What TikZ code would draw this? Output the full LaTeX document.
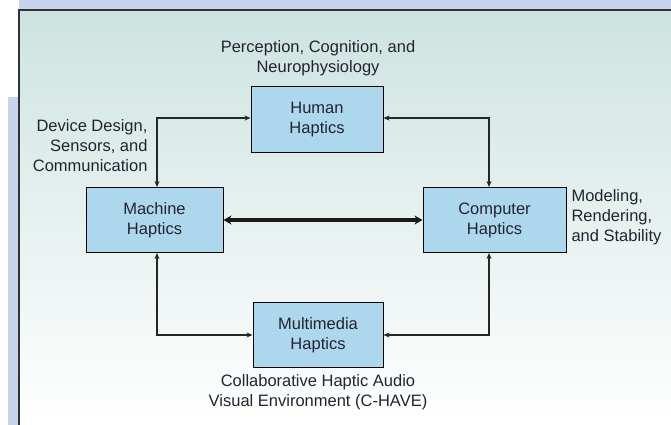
\documentclass[tikz,border=0pt]{standalone}
\usepackage{fontspec}
\setmainfont{Liberation Sans}
\usepackage{xcolor}
\usetikzlibrary{positioning,arrows.meta}
\definecolor{boxblue}{RGB}{172,215,236}
\definecolor{panelteal}{RGB}{205,227,224}
\definecolor{stripblue}{RGB}{200,212,238}
\definecolor{inkdark}{RGB}{35,35,50}

\begin{document}
\begin{tikzpicture}[x=1pt, y=-1pt, >=Stealth,
		hapbox/.style={draw=black, line width=1pt, fill=boxblue, minimum width=132pt, minimum height=65pt,
			align=center, font=\fontsize{16.5}{20}\selectfont, text=inkdark},
		note/.style={align=center, font=\fontsize{16.5}{20}\selectfont, text=inkdark},
		link/.style={<->, line width=1.1pt, draw=black!85, >={Stealth[length=6pt,width=5pt]}},
		bigLink/.style={<->, line width=3.5pt, draw=black!90, >={Stealth[length=8pt,width=9pt]}}]
		\useasboundingbox (0,0) rectangle (671,425);
		% background panel
		\fill[stripblue] (19,0) rectangle (671,10);
		\fill[stripblue] (8,97) rectangle (18,425);
		\shade[top color=panelteal, bottom color=white] (19,10) rectangle (671,425);
		\draw[line width=1.2pt, black!80] (19,425) -- (19,10) -- (671,10);

		% the four haptics boxes
		\node[hapbox] (human) at (317,119.5) {Human\\Haptics};
		\node[hapbox, minimum width=137pt] (machine) at (154.5,220) {Machine\\Haptics};
		\node[hapbox, minimum width=143pt] (computer) at (494.5,220) {Computer\\Haptics};
		\node[hapbox, minimum width=130pt] (multimedia) at (318,335) {Multimedia\\Haptics};

		% research areas
		\node[note] (percept) at (318,58) {Perception, Cognition, and\\Neurophysiology};
		\node[note, align=right, anchor=east] (device) at (151,146) {Device Design,\\Sensors, and\\Communication};
		\node[note, align=left, anchor=west] (model) at (568,217) {Modeling,\\Rendering,\\and Stability};
		\node[note] (chave) at (318,392) {Collaborative Haptic Audio\\Visual Environment (C-HAVE)};

		% connections
		\draw[link] ([xshift=2.5pt]machine.north) |- ([yshift=1.5pt]human.west);
		\draw[link] ([yshift=1.5pt]human.east) -| ([xshift=-5.5pt]computer.north);
		\draw[link] ([xshift=2.5pt]machine.south) |- (multimedia.west);
		\draw[link] (multimedia.east) -| ([xshift=-5.5pt]computer.south);
		\draw[bigLink] (machine.east) -- (computer.west);
	\end{tikzpicture}
\end{document}
